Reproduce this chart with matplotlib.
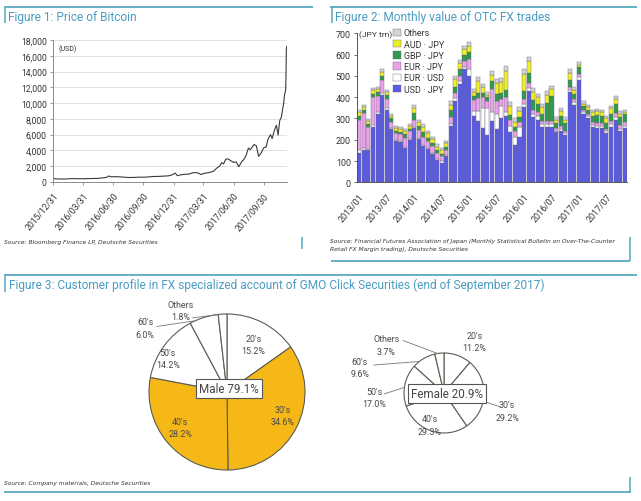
import matplotlib
matplotlib.use('Agg')
import matplotlib.pyplot as plt
from matplotlib.ticker import FuncFormatter, MultipleLocator
import numpy as np
import pandas as pd

plt.rcParams['font.family'] = ['Roboto', 'DejaVu Sans']

# ---------------- Figure 1 data: Bitcoin price (USD) ----------------
btc_dates = ['2015-12-31', '2016-01-15', '2016-01-31', '2016-02-15', '2016-02-29',
             '2016-03-15', '2016-03-31', '2016-04-15', '2016-04-30', '2016-05-15',
             '2016-05-31', '2016-06-10', '2016-06-17', '2016-06-24', '2016-06-30',
             '2016-07-15', '2016-07-31', '2016-08-15', '2016-08-31', '2016-09-15',
             '2016-09-30', '2016-10-15', '2016-10-31', '2016-11-15', '2016-11-30',
             '2016-12-15', '2016-12-25', '2017-01-04', '2017-01-11', '2017-01-20',
             '2017-01-31', '2017-02-15', '2017-02-28', '2017-03-10', '2017-03-17',
             '2017-03-24', '2017-03-31', '2017-04-15', '2017-04-30', '2017-05-10',
             '2017-05-20', '2017-05-25', '2017-05-31', '2017-06-06', '2017-06-11',
             '2017-06-20', '2017-06-30', '2017-07-08', '2017-07-16', '2017-07-25',
             '2017-07-31', '2017-08-07', '2017-08-14', '2017-08-20', '2017-08-31',
             '2017-09-07', '2017-09-14', '2017-09-21', '2017-09-30', '2017-10-07',
             '2017-10-12', '2017-10-20', '2017-10-25', '2017-10-31', '2017-11-07',
             '2017-11-12', '2017-11-17', '2017-11-22', '2017-11-26', '2017-11-29',
             '2017-12-01', '2017-12-05', '2017-12-06', '2017-12-07', '2017-12-08']
btc_usd = [430, 385, 375, 400, 435,
           415, 415, 430, 450, 455,
           530, 580, 760, 660, 675,
           665, 625, 570, 575, 610,
           610, 640, 700, 710, 745,
           780, 890, 1130, 800, 895,
           965, 1010, 1190, 1180, 1100,
           935, 1080, 1180, 1350, 1750,
           2050, 2450, 2300, 2850, 2950,
           2750, 2480, 2550, 1930, 2600,
           2850, 3350, 4300, 4100, 4750,
           4600, 3250, 3650, 4350, 4450,
           5400, 6000, 5500, 6450, 7200,
           5950, 7800, 8200, 9300, 10000,
           10900, 11700, 13700, 16800, 17200]
btc_tick_dates = ['2015-12-31', '2016-03-31', '2016-06-30', '2016-09-30',
                  '2016-12-31', '2017-03-31', '2017-06-30', '2017-09-30']
btc_tick_labels = ['2015/12/31', '2016/03/31', '2016/06/30', '2016/09/30',
                   '2016/12/31', '2017/03/31', '2017/06/30', '2017/09/30']

# ---------------- Figure 2 data: monthly OTC FX trades (JPY trn) ----------------
fx_months = pd.date_range('2013-01-01', periods=59, freq='MS').strftime('%Y/%m').tolist()
usd_jpy = [140, 150, 150, 262, 320, 410, 338, 250, 195, 190, 160, 200,
           255, 205, 172, 155, 135, 105, 93, 125, 265, 380, 460, 530,
           500, 310, 290, 255, 220, 290, 250, 300, 310, 235, 175, 215,
           355, 430, 305, 295, 260, 262, 262, 235, 240, 222, 425, 365,
           480, 320, 300, 260, 255, 255, 232, 262, 295, 240, 255]
eur_usd = [12, 10, 8, 8, 12, 10, 10, 5, 5, 5, 5, 5,
           5, 5, 5, 5, 5, 5, 5, 5, 10, 15, 15, 10,
           30, 25, 45, 95, 130, 40, 70, 60, 20, 30, 40, 45,
           15, 15, 15, 15, 12, 10, 10, 8, 10, 8, 10, 10,
           15, 10, 10, 8, 10, 10, 8, 10, 12, 10, 10]
eur_jpy = [140, 165, 100, 130, 75, 60, 45, 30, 30, 30, 45, 35,
           35, 35, 38, 35, 30, 30, 24, 20, 30, 25, 25, 30,
           50, 50, 60, 50, 30, 110, 60, 30, 70, 30, 25, 25,
           20, 20, 20, 20, 15, 15, 15, 10, 15, 10, 15, 15,
           15, 10, 10, 15, 15, 15, 12, 15, 20, 20, 20]
gbp_jpy = [18, 15, 15, 15, 15, 20, 17, 15, 12, 12, 15, 12,
           30, 20, 20, 15, 15, 12, 12, 15, 35, 30, 30, 30,
           30, 20, 25, 20, 20, 35, 35, 30, 35, 20, 20, 22,
           40, 50, 45, 40, 35, 85, 120, 25, 45, 40, 30, 25,
           30, 20, 22, 30, 35, 30, 28, 35, 40, 35, 35]
aud_jpy = [20, 15, 15, 20, 18, 20, 15, 12, 13, 13, 15, 13,
           25, 20, 25, 20, 17, 16, 18, 18, 25, 35, 30, 25,
           30, 20, 55, 30, 12, 30, 50, 50, 90, 45, 25, 30,
           80, 55, 40, 30, 30, 40, 30, 15, 25, 13, 35, 20,
           10, 10, 10, 15, 20, 18, 20, 25, 25, 18, 10]
others = [12, 10, 8, 10, 10, 10, 10, 8, 10, 10, 10, 10,
          12, 10, 12, 10, 10, 10, 10, 12, 15, 15, 15, 15,
          20, 15, 20, 12, 13, 20, 20, 20, 20, 15, 15, 15,
          20, 20, 16, 15, 16, 16, 15, 12, 13, 12, 15, 15,
          15, 10, 10, 10, 10, 10, 10, 11, 13, 12, 12]
fx_series_names = ['USD · JPY', 'EUR · USD', 'EUR · JPY', 'GBP · JPY', 'AUD · JPY', 'Others']
fx_tick_labels = fx_months[::6]

# ---------------- Figure 3 data: customer profile ----------------
age_groups = ["20's", "30's", "40's", "50's", "60's", "Others"]
male_share = [15.2, 34.6, 28.2, 14.2, 6.0, 1.8]
female_share = [11.2, 29.2, 29.3, 17.0, 9.6, 3.7]
male_total = 79.1
female_total = 20.9

# ---------------- styles ----------------
W, H = 641, 502
TEAL_LINE = '#64afc6'
TEAL_TXT = '#4a9dc2'
TXT = '#333333'


def fx(px):
    return px / W


def fy(py):
    return 1 - py / H


fig = plt.figure(figsize=(W / 100, H / 100), dpi=100)
fig.patch.set_facecolor('white')

# decoration overlay (pixel coordinates, y downward)
deco = fig.add_axes([0, 0, 1, 1], zorder=0)
deco.set_xlim(0, W)
deco.set_ylim(H, 0)
deco.axis('off')

def hline(x0, x1, y):
    deco.plot([x0, x1], [y, y], color=TEAL_LINE, lw=1.4, solid_capstyle='butt')

def vline(x, y0, y1):
    deco.plot([x, x], [y0, y1], color=TEAL_LINE, lw=1.2, solid_capstyle='butt')

# panel frames
hline(4, 313, 7.5); vline(5, 8, 24)
hline(330, 637, 7.5); vline(331.5, 8, 24)
vline(302, 238, 250)
vline(630, 238, 262); hline(331, 630, 262)
hline(4, 637, 275.5); vline(5, 276, 293)
hline(4, 630.5, 493); vline(630, 478, 493)

title_kw = dict(color=TEAL_TXT, fontsize=8.6, va='center', ha='left')
deco.text(8, 17, 'Figure 1: Price of Bitcoin', **title_kw)
deco.text(335, 17, 'Figure 2: Monthly value of OTC FX trades', **title_kw)
deco.text(9, 285, 'Figure 3: Customer profile in FX specialized account of GMO Click Securities (end of September 2017)',
          **title_kw)

src_kw = dict(color=TXT, fontsize=4.3, style='italic', va='center', ha='left', family=['DejaVu Sans'])
deco.text(4, 243, 'Source: Bloomberg Finance LP, Deutsche Securities', **src_kw)
deco.text(330, 242, 'Source: Financial Futures Association of Japan (Monthly Statistical Bulletin on Over-The-Counter',
          **src_kw)
deco.text(330, 250, 'Retail FX Margin trading), Deutsche Securities', **src_kw)
deco.text(4, 484, 'Source: Company materials, Deutsche Securities', **src_kw)

# ---------------- Figure 1 ----------------
ax1 = fig.add_axes([fx(53), fy(183), fx(287) - fx(53), fy(41) - fy(183)])
d = pd.to_datetime(btc_dates)
ax1.plot(d, btc_usd, color='#3a3a3a', lw=0.8)
ax1.set_xlim(pd.Timestamp('2015-12-31'), pd.Timestamp('2017-12-09'))
ax1.set_ylim(0, 18000)
ax1.yaxis.set_major_locator(MultipleLocator(2000))
ax1.yaxis.set_major_formatter(FuncFormatter(lambda v, p: f'{int(v):,}'))
ax1.grid(axis='y', color='#dcdcdc', lw=0.6)
ax1.set_axisbelow(True)
ax1.set_xticks(pd.to_datetime(btc_tick_dates))
ax1.set_xticklabels(btc_tick_labels, rotation=50, ha='right', rotation_mode='anchor')
for s in ['top', 'right']:
    ax1.spines[s].set_visible(False)
for s in ['left', 'bottom']:
    ax1.spines[s].set_color('#8a8a8a')
    ax1.spines[s].set_linewidth(0.7)
ax1.tick_params(axis='both', labelsize=6.2, colors='#8a8a8a', labelcolor=TXT, length=2.5, width=0.6, pad=2)
ax1.tick_params(axis='x', pad=4)
ax1.text(0.025, 0.94, '(USD)', transform=ax1.transAxes, fontsize=5, color=TXT, va='center')

# ---------------- Figure 2 ----------------
ax2 = fig.add_axes([fx(357), fy(183.3), fx(627) - fx(357), fy(34.3) - fy(183.3)])
xpos = np.arange(len(fx_months))
series = [usd_jpy, eur_usd, eur_jpy, gbp_jpy, aud_jpy, others]
colors = ['#5a5ae4', '#ffffff', '#e8a2e8', '#2e9a4c', '#efef28', '#d4d4d4']
bottom = np.zeros(len(xpos))
handles = []
for vals, c, name in zip(series, colors, fx_series_names):
    bc = ax2.bar(xpos, vals, bottom=bottom, width=0.9, color=c, edgecolor='#6a6a7a',
                 linewidth=0.3, label=name)
    handles.append(bc)
    bottom += np.array(vals, dtype=float)
ax2.set_xlim(-0.5, len(xpos) - 0.5)
ax2.set_ylim(0, 700)
ax2.yaxis.set_major_locator(MultipleLocator(100))
ax2.set_xticks(xpos[::6])
ax2.set_xticklabels(fx_tick_labels, rotation=50, ha='right', rotation_mode='anchor')
for s in ['top', 'right']:
    ax2.spines[s].set_visible(False)
for s in ['left', 'bottom']:
    ax2.spines[s].set_color('#555555')
    ax2.spines[s].set_linewidth(0.7)
ax2.tick_params(axis='both', labelsize=6.4, colors='#555555', labelcolor=TXT, length=2.5, width=0.6, pad=2)
ax2.tick_params(axis='x', length=0, pad=7)
ax2.text(359, 35, '(JPY trn)', transform=deco.transData, fontsize=6, color=TXT, va='center', ha='left')
leg = ax2.legend(handles[::-1], fx_series_names[::-1], loc='upper left',
                 bbox_to_anchor=(fx(393), fy(29.5)), bbox_transform=fig.transFigure,
                 frameon=False, fontsize=6.4, handlelength=0.9, handleheight=0.9,
                 handletextpad=0.3, labelspacing=0.25, borderpad=0, borderaxespad=0)
for t in leg.get_texts():
    t.set_color(TXT)

# ---------------- Figure 3 ----------------
ax3 = fig.add_axes([0, 0, 1, 1], zorder=2)
ax3.patch.set_alpha(0)
GOLD = '#f6b816'
male_colors = ['white', GOLD, GOLD, 'white', 'white', 'white']
female_colors = ['white'] * 6
wp = dict(edgecolor='#5c5c52', linewidth=0.8)

male_c = (227, H - 393)
male_r = 78
female_c = (444, H - 394)
female_r = 40

mw, _ = ax3.pie(male_share, colors=male_colors, startangle=90, counterclock=False,
                center=male_c, radius=male_r, wedgeprops=wp, normalize=True)
fw, _ = ax3.pie(female_share, colors=female_colors, startangle=90, counterclock=False,
                center=female_c, radius=female_r, wedgeprops=wp, normalize=True)
ax3.set_aspect('auto')
ax3.set_xlim(0, W)
ax3.set_ylim(0, H)
ax3.axis('off')

# label positions (in radius units relative to the pie centre) and leader lines
male_label_off = [(0.34, 0.61), (0.71, -0.30), (-0.60, -0.46), (-0.76, 0.43), (-1.05, 0.82), (-0.60, 1.04)]
male_leader = {4: ((-0.90, 0.84), 114), 5: ((-0.44, 0.95), 97)}
female_label_off = [(0.76, 1.28), (1.58, -0.45), (-0.36, -0.80), (-1.75, -0.12), (-2.10, 0.63), (-1.44, 1.20)]
female_leader = {5: ((-1.02, 1.31), 99), 4: ((-1.75, 0.70), 128), 3: ((-1.49, -0.02), 172),
                 1: ((1.42, -0.35), -12)}

lab_kw = dict(fontsize=6.4, color='#4a4a4a', ha='center', va='center', linespacing=1.45, zorder=5)

def place_labels(wedges, shares, center, r, offs, leaders):
    cx, cy = center
    for i, (w, g, s) in enumerate(zip(wedges, age_groups, shares)):
        ox, oy = offs[i]
        ax3.text(cx + ox * r, cy + oy * r, f"{g}\n{s:.1f}%", **lab_kw)
        if i in leaders:
            (sx, sy), ang = leaders[i]
            ex = cx + r * np.cos(np.radians(ang))
            ey = cy + r * np.sin(np.radians(ang))
            ax3.plot([cx + sx * r, ex], [cy + sy * r, ey], color='#777777', lw=0.6, zorder=4)

place_labels(mw, male_share, male_c, male_r, male_label_off, male_leader)
place_labels(fw, female_share, female_c, female_r, female_label_off, female_leader)

box_kw = dict(boxstyle='square,pad=0.28', facecolor='white', edgecolor='#555555', linewidth=0.8)
ax3.text(229, H - 389.5, f'Male {male_total:.1f}%', fontsize=8.4, color='#444444',
         ha='center', va='center', bbox=box_kw, zorder=6)
ax3.text(447, H - 394.5, f'Female {female_total:.1f}%', fontsize=8.4, color='#444444',
         ha='center', va='center', bbox=box_kw, zorder=6)

fig.savefig('out.png', dpi=100, facecolor='white')
